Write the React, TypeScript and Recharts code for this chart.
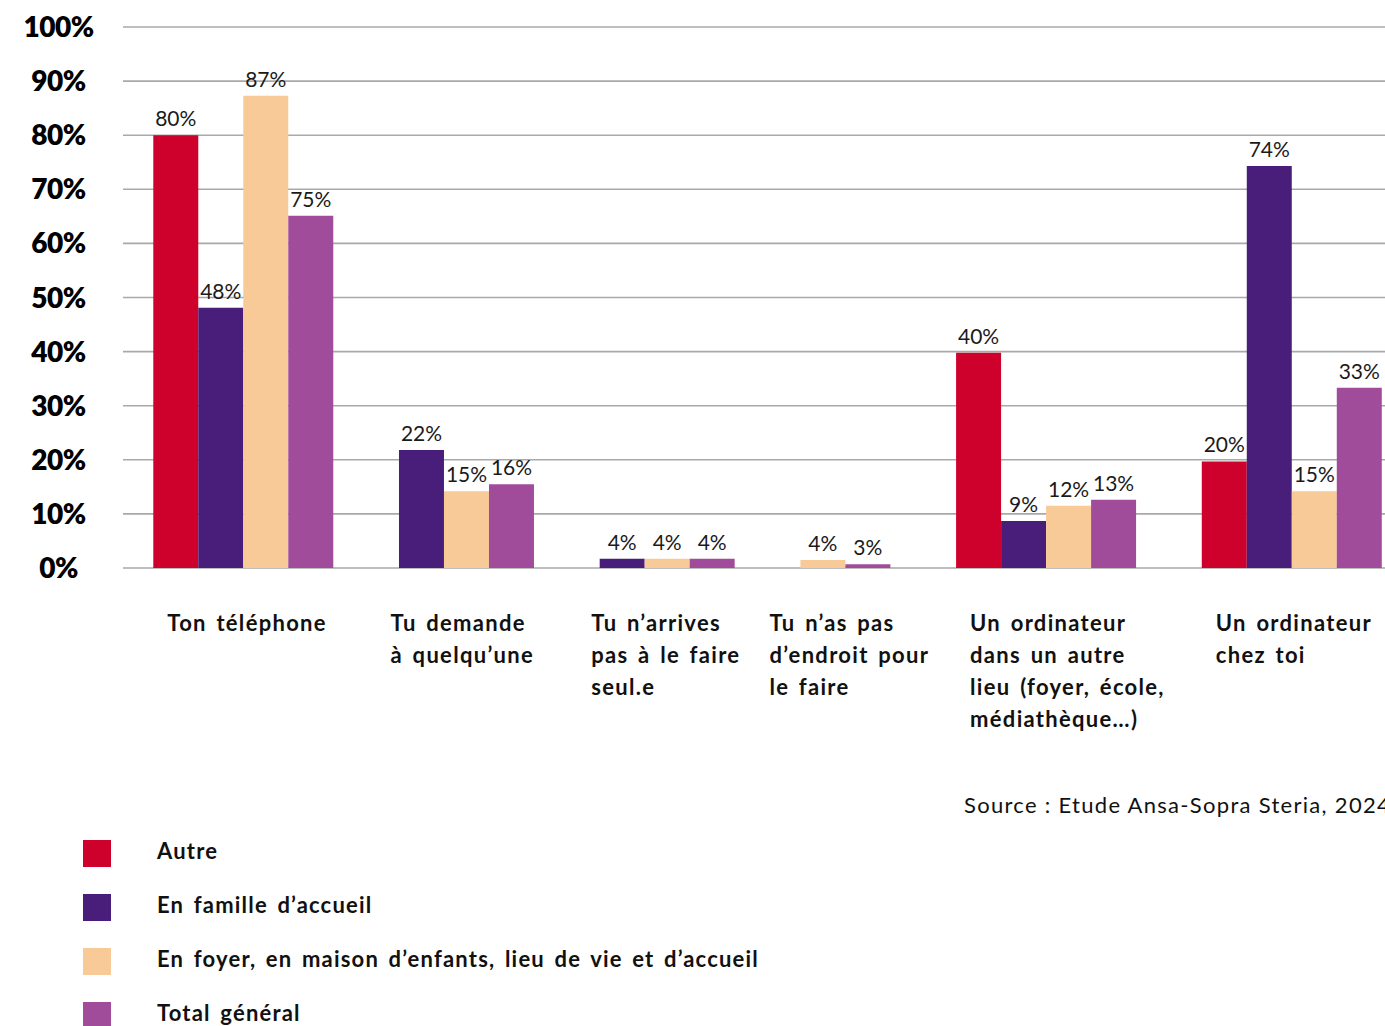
import React from 'react';
import { BarChart, Bar, XAxis, YAxis, CartesianGrid, Cell, LabelList } from 'recharts';

// ---------- DATA ----------
const categories = [
  'Ton téléphone',
  'Tu demande\nà quelqu’une',
  'Tu n’arrives\npas à le faire\nseul.e',
  'Tu n’as pas\nd’endroit pour\nle faire',
  'Un ordinateur\ndans un autre\nlieu (foyer, école,\nmédiathèque…)',
  'Un ordinateur\nchez toi',
];

const seriesNames = [
  'Autre',
  'En famille d’accueil',
  'En foyer, en maison d’enfants, lieu de vie et d’accueil',
  'Total général',
];

// bar heights as drawn in the picture (%)
const autre = [80, null, null, null, 39.8, 19.7];
const famille = [48.1, 21.8, 1.7, null, 8.7, 74.3];
const foyer = [87.3, 14.2, 1.7, 1.5, 11.5, 14.2];
const total = [65.1, 15.5, 1.7, 0.7, 12.6, 33.3];

// value labels as printed in the picture
const autreLabels = ['80%', null, null, null, '40%', '20%'];
const familleLabels = ['48%', '22%', '4%', null, '9%', '74%'];
const foyerLabels = ['87%', '15%', '4%', '4%', '12%', '15%'];
const totalLabels = ['75%', '16%', '4%', '3%', '13%', '33%'];

const yTicks = [0, 10, 20, 30, 40, 50, 60, 70, 80, 90, 100];

const sourceText = 'Source : Etude Ansa-Sopra Steria, 2024';

// ---------- STYLE / LAYOUT ----------
const seriesColors = ['#CE002C', '#481E7A', '#F8CA98', '#A14C9B'];
const W = 1385;
const H = 1026;
const CHART_H = 760;
const PLOT_TOP = 27;
const PLOT_BOTTOM = 568;
const PLOT_LEFT = 123;
const BAR = 45; // px per bar
const GAP = 1.46; // gap between groups, in bar widths
const LEFT_PAD = 1.173; // from plot left edge to first bar centre, in bar widths
const LABEL_SHIFT = 76; // category label starts this far left of group centre
const FONT = 'Lato, "Open Sans", sans-serif';

const seriesValues = [autre, famille, foyer, total];
const seriesLabels = [autreLabels, familleLabels, foyerLabels, totalLabels];

type Row = { pos: number; value: number; label: string | null; color: string };
const rows: Row[] = [];
const groupCentres: number[] = [];
let running = 0;
categories.forEach((_, g) => {
  const posList: number[] = [];
  seriesValues.forEach((vals, s) => {
    const v = vals[g];
    if (v == null) return;
    const pos = running + g * GAP;
    posList.push(pos);
    rows.push({ pos, value: v, label: seriesLabels[s][g], color: seriesColors[s] });
    running++;
  });
  groupCentres.push((posList[0] + posList[posList.length - 1]) / 2);
});

const domainLo = -LEFT_PAD;
const domainHi = domainLo + (W - PLOT_LEFT) / BAR;

const XTick = (props: any) => {
  const { x, payload } = props;
  const g = groupCentres.indexOf(payload.value);
  if (g < 0) return null;
  const lines = categories[g].split('\n');
  const lx = x - LABEL_SHIFT;
  return (
    <text
      x={lx}
      y={PLOT_BOTTOM + 63}
      textAnchor="start"
      fill="#111"
      fontFamily={FONT}
      fontWeight={700}
      fontSize={22}
      letterSpacing={1.3}
      wordSpacing={3}
    >
      {lines.map((l, i) => (
        <tspan key={i} x={lx} dy={i === 0 ? 0 : 32}>
          {l}
        </tspan>
      ))}
    </text>
  );
};

const YTick = (props: any) => {
  const { y, payload } = props;
  return (
    <text
      x={PLOT_LEFT / 2 - 3}
      y={y}
      dy={10}
      textAnchor="middle"
      fill="#000"
      fontFamily={FONT}
      fontWeight={800}
      fontSize={28}
      letterSpacing={-0.5}
    >
      {`${payload.value}%`}
    </text>
  );
};

export default function App() {
  return (
    <div
      style={{
        position: 'absolute',
        left: 0,
        top: 0,
        width: W,
        height: H,
        overflow: 'hidden',
        background: '#fff',
        fontFamily: FONT,
      }}
    >
      <BarChart
        width={W}
        height={CHART_H}
        data={rows}
        margin={{ top: PLOT_TOP, right: 0, bottom: 0, left: 0 }}
      >
        <CartesianGrid vertical={false} stroke="#a9a9a9" strokeWidth={1.6} />
        <XAxis
          type="number"
          dataKey="pos"
          domain={[domainLo, domainHi]}
          allowDataOverflow
          ticks={groupCentres}
          interval={0}
          tick={<XTick />}
          axisLine={false}
          tickLine={false}
          height={CHART_H - PLOT_BOTTOM}
        />
        <YAxis
          type="number"
          domain={[0, 100]}
          ticks={yTicks}
          interval={0}
          width={PLOT_LEFT}
          tick={<YTick />}
          axisLine={false}
          tickLine={false}
        />
        <Bar dataKey="value" barSize={BAR - 0.01} isAnimationActive={false}>
          {rows.map((r, i) => (
            <Cell key={i} fill={r.color} />
          ))}
          <LabelList
            dataKey="label"
            position="top"
            offset={9}
            fill="#1a1a1a"
            fontSize={21}
            fontFamily={FONT}
            fontWeight={400}
          />
        </Bar>
      </BarChart>

      <div
        style={{
          position: 'absolute',
          left: 964,
          top: 791,
          fontSize: 22,
          color: '#111',
          whiteSpace: 'nowrap',
          letterSpacing: 1.3,
          fontWeight: 400,
        }}
      >
        {sourceText}
      </div>

      {seriesNames.map((name, i) => (
        <div key={name}>
          <div
            style={{
              position: 'absolute',
              left: 83,
              top: 840 + i * 54,
              width: 28,
              height: 27,
              background: seriesColors[i],
            }}
          />
          <div
            style={{
              position: 'absolute',
              left: 157,
              top: 837 + i * 54,
              lineHeight: '27px',
              fontSize: 22,
              fontWeight: 700,
              color: '#111',
              whiteSpace: 'nowrap',
              letterSpacing: 1.2,
              wordSpacing: 3,
            }}
          >
            {name}
          </div>
        </div>
      ))}
    </div>
  );
}
